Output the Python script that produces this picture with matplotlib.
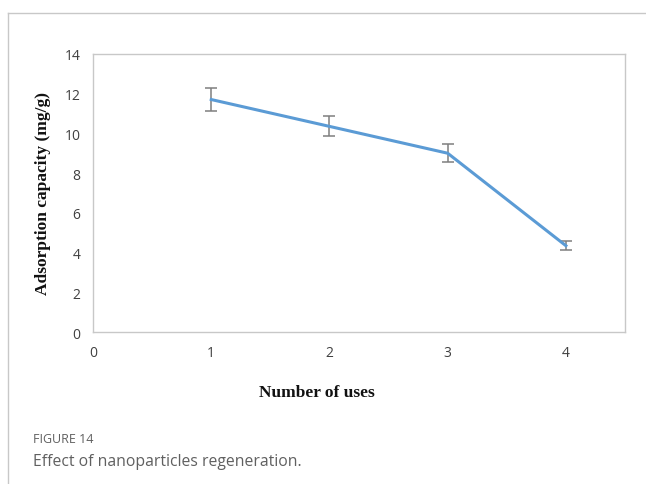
import matplotlib
matplotlib.use("Agg")
import matplotlib.pyplot as plt
from matplotlib.lines import Line2D

uses = [1, 2, 3, 4]
capacity = [11.7, 10.35, 9.0, 4.35]
errors = [0.6, 0.5, 0.45, 0.22]
xticks = [0, 1, 2, 3, 4]
yticks = [0, 2, 4, 6, 8, 10, 12, 14]

fig = plt.figure(figsize=(6.46, 4.85), dpi=100)
ax = fig.add_axes([0.144, 0.313, 0.8235, 0.574])

ax.errorbar(uses, capacity, yerr=errors, color="#5b9bd5", lw=2.2,
            ecolor="#7f7f7f", elinewidth=1.1, capsize=4, capthick=1.1, zorder=3)
ax.set_xlim(0, 4.5)
ax.set_ylim(0, 14)
ax.set_xticks(xticks)
ax.set_yticks(yticks)
ax.tick_params(length=0, labelsize=10, colors="#404040", pad=9)
for lab in ax.get_xticklabels() + ax.get_yticklabels():
    lab.set_family("Open Sans")
for s in ax.spines.values():
    s.set_color("#c8c8c8")
    s.set_linewidth(1.0)

ax.set_xlabel("Number of uses", family="Liberation Serif", fontweight="bold",
              fontsize=12.5, color="#111111")
ax.xaxis.set_label_coords((317 - 93) / (625 - 93), -(393 - 333) / (333 - 55), transform=ax.transAxes)
ax.xaxis.label.set_va("center")
ax.set_ylabel("Adsorption capacity (mg/g)", family="Liberation Serif",
              fontweight="bold", fontsize=12.5, color="#111111")
ax.yaxis.set_label_coords(-(93 - 43) / (625 - 93), 0.5, transform=ax.transAxes)
ax.yaxis.label.set_va("center")

# card border (top and left)
fig.add_artist(Line2D([8/646, 1], [1 - 14/485, 1 - 14/485], transform=fig.transFigure,
                      color="#c8c8c8", lw=1))
fig.add_artist(Line2D([8/646, 8/646], [0, 1 - 14/485], transform=fig.transFigure,
                      color="#c8c8c8", lw=1))

fig.text(33/646, 1 - 440/485, "FIGURE 14", family="Open Sans", fontsize=9,
         color="#606060", va="center", ha="left", fontweight="medium")
fig.text(33/646, 1 - 462/485, "Effect of nanoparticles regeneration.", family="Open Sans",
         fontsize=11.3, color="#606060", va="center", ha="left")

fig.savefig("out.png", dpi=100)
